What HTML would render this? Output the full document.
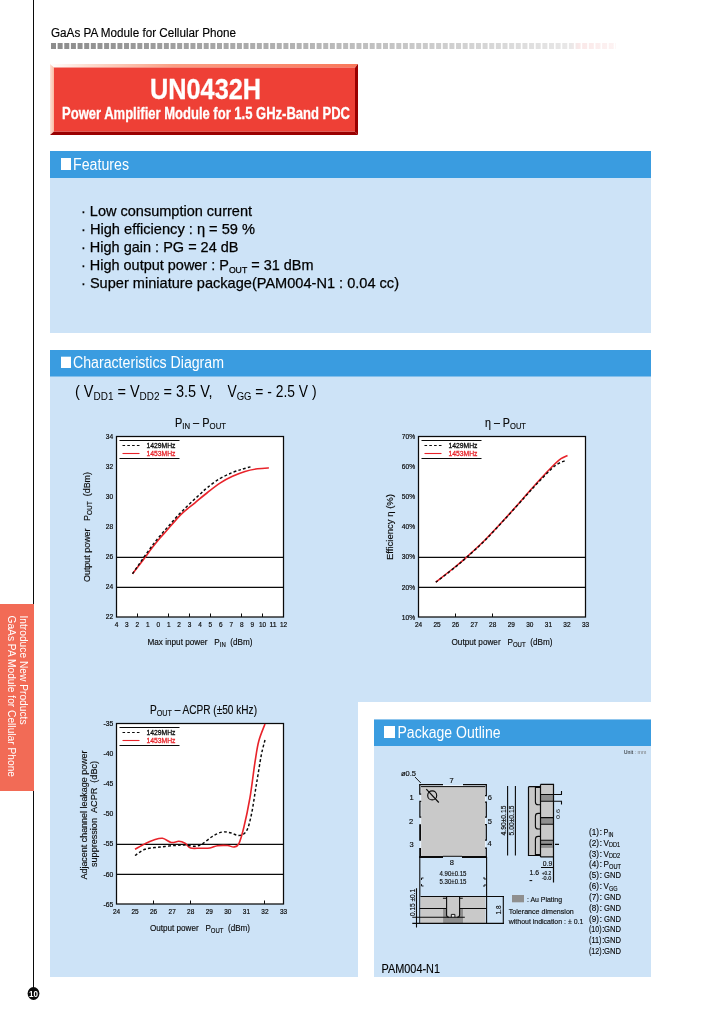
<!DOCTYPE html>
<html lang="en">
<head>
<meta charset="utf-8">
<title>UN0432H - Power Amplifier Module for 1.5 GHz-Band PDC</title>
<style>
html,body{margin:0;padding:0;background:#fff;}
body{width:720px;height:1012px;overflow:hidden;}
svg{display:block;font-family:"Liberation Sans", sans-serif;}
#pkg text,text.k{stroke:#0a0a0a;stroke-width:0.15px;}
</style>
</head>
<body>
<svg width="720" height="1012" viewBox="0 0 720 1012">
<defs>
<linearGradient id="dotg" gradientUnits="userSpaceOnUse" x1="51" y1="0" x2="616" y2="0">
<stop offset="0" stop-color="#8c8c8c"/><stop offset="0.45" stop-color="#b4b4b4"/><stop offset="0.8" stop-color="#d9d9d9"/><stop offset="0.92" stop-color="#e9e8e8"/><stop offset="0.935" stop-color="#fae8e8"/><stop offset="1" stop-color="#fdf3f3"/>
</linearGradient>
<linearGradient id="bevt" gradientUnits="userSpaceOnUse" x1="50" y1="0" x2="358" y2="0">
<stop offset="0" stop-color="#ffffff"/><stop offset="0.12" stop-color="#fdddd0"/><stop offset="0.4" stop-color="#fa9f84"/><stop offset="1" stop-color="#f9775a"/>
</linearGradient>
<linearGradient id="bevl" gradientUnits="userSpaceOnUse" x1="50" y1="0" x2="54" y2="0">
<stop offset="0" stop-color="#fde4da"/><stop offset="1" stop-color="#fbb9a2"/>
</linearGradient>
</defs>
<rect x="0" y="0" width="720" height="1012" fill="#ffffff"/>

<rect x="33" y="0" width="1" height="988" fill="#0a0a0a"/>
<rect x="0" y="604" width="34" height="187" fill="#f26b56"/>
<g fill="#ffffff" font-size="10">
<text transform="translate(19.5 615.5) rotate(90)" textLength="109" lengthAdjust="spacingAndGlyphs">Introduce New Products</text>
<text transform="translate(8.2 615.5) rotate(90)" textLength="161.5" lengthAdjust="spacingAndGlyphs">GaAs PA Module for Cellular Phone</text>
</g>
<ellipse cx="33.5" cy="993.5" rx="5.9" ry="6.4" fill="#0a0a0a"/>
<text x="33.5" y="997" font-size="9.5" font-weight="bold" fill="#ffffff" text-anchor="middle" textLength="9" lengthAdjust="spacingAndGlyphs">10</text>
<text x="51" y="37" font-size="12" fill="#000" textLength="185" lengthAdjust="spacingAndGlyphs" stroke="#000" stroke-width="0.15">GaAs PA Module for Cellular Phone</text>
<line x1="51" y1="45.9" x2="616" y2="45.9" stroke="url(#dotg)" stroke-width="6" stroke-dasharray="5 1.64"/>
<polygon points="50,64 358,64 355,67.5 54,67.5" fill="url(#bevt)"/>
<polygon points="50,64 54,67.5 54,131.5 50,135" fill="url(#bevl)"/>
<polygon points="50,135 54,131.5 355,131.5 358,135" fill="#990000"/>
<polygon points="358,64 358,135 355,131.5 355,67.5" fill="#990000"/>
<rect x="54" y="67.5" width="301" height="64" fill="#ee4036"/>
<text x="205.5" y="99.3" font-size="30" fill="#ffffff" text-anchor="middle" font-weight="bold" textLength="111" lengthAdjust="spacingAndGlyphs" stroke="#fff" stroke-width="0.3">UN0432H</text>
<text x="206" y="119" font-size="16" fill="#ffffff" text-anchor="middle" font-weight="bold" textLength="288" lengthAdjust="spacingAndGlyphs" stroke="#fff" stroke-width="0.3">Power Amplifier Module for 1.5 GHz-Band PDC</text>
<rect x="50" y="151" width="601" height="182" fill="#cde3f7"/>
<rect x="50" y="151" width="601" height="27" fill="#3a9ce0"/>
<rect x="61" y="158" width="10" height="12" fill="#ffffff"/>
<text x="73" y="170" font-size="16" fill="#ffffff" textLength="56" lengthAdjust="spacingAndGlyphs">Features</text>
<text x="81" y="216.4" font-size="15" fill="#000" textLength="171" lengthAdjust="spacingAndGlyphs" stroke="#000" stroke-width="0.25">· Low consumption current</text>
<text x="81" y="234.4" font-size="15" fill="#000" textLength="174" lengthAdjust="spacingAndGlyphs" stroke="#000" stroke-width="0.25">· High efficiency : η = 59 %</text>
<text x="81" y="252.4" font-size="15" fill="#000" textLength="157.5" lengthAdjust="spacingAndGlyphs" stroke="#000" stroke-width="0.25">· High gain : PG = 24 dB</text>
<text x="81" y="270.4" font-size="15" fill="#000" textLength="232.5" lengthAdjust="spacingAndGlyphs" stroke="#000" stroke-width="0.25">· High output power : P<tspan dy="2.5" font-size="9">OUT</tspan><tspan dy="-2.5"> = 31 dBm</tspan></text>
<text x="81" y="288.4" font-size="15" fill="#000" textLength="318" lengthAdjust="spacingAndGlyphs" stroke="#000" stroke-width="0.25">· Super miniature package(PAM004-N1 : 0.04 cc)</text>
<rect x="50" y="350" width="601" height="627" fill="#cde3f7"/>
<rect x="50" y="350" width="601" height="26.5" fill="#3a9ce0"/>
<rect x="61" y="356.7" width="10" height="11.3" fill="#ffffff"/>
<text x="73" y="368.3" font-size="16" fill="#ffffff" textLength="151" lengthAdjust="spacingAndGlyphs">Characteristics Diagram</text>
<text x="75" y="397" font-size="16" fill="#000" textLength="137.5" lengthAdjust="spacingAndGlyphs">( V<tspan dy="3" font-size="11">DD1</tspan><tspan dy="-3"> = V</tspan><tspan dy="3" font-size="11">DD2</tspan><tspan dy="-3"> = 3.5 V,</tspan></text>
<text x="227.5" y="397" font-size="16" fill="#000" textLength="89" lengthAdjust="spacingAndGlyphs">V<tspan dy="3" font-size="11">GG</tspan><tspan dy="-3"> = - 2.5 V )</tspan></text>
<rect x="116.5" y="436.5" width="167.0" height="180.5" fill="#ffffff" stroke="#0a0a0a" stroke-width="1.25"/>
<line x1="116.5" y1="557.3" x2="283.5" y2="557.3" stroke="#0a0a0a" stroke-width="1.2"/>
<line x1="116.5" y1="587.4" x2="283.5" y2="587.4" stroke="#0a0a0a" stroke-width="1.2"/>
<line x1="137.5" y1="617" x2="137.5" y2="613.5" stroke="#0a0a0a" stroke-width="1"/>
<line x1="168.5" y1="617" x2="168.5" y2="613.5" stroke="#0a0a0a" stroke-width="1"/>
<line x1="189.5" y1="617" x2="189.5" y2="613.5" stroke="#0a0a0a" stroke-width="1"/>
<line x1="210.5" y1="617" x2="210.5" y2="613.5" stroke="#0a0a0a" stroke-width="1"/>
<line x1="241.5" y1="617" x2="241.5" y2="613.5" stroke="#0a0a0a" stroke-width="1"/>
<line x1="262.5" y1="617" x2="262.5" y2="613.5" stroke="#0a0a0a" stroke-width="1"/>
<line x1="119.5" y1="440.5" x2="179.5" y2="440.5" stroke="#0a0a0a" stroke-width="1.1"/>
<line x1="119.5" y1="458.5" x2="179.5" y2="458.5" stroke="#0a0a0a" stroke-width="1.1"/>
<line x1="122.5" y1="445.5" x2="139.5" y2="445.5" stroke="#0a0a0a" stroke-width="1" stroke-dasharray="2.6 2.2"/>
<line x1="122.5" y1="453.5" x2="139.5" y2="453.5" stroke="#e8232a" stroke-width="1.1"/>
<text x="146.5" y="448.0" font-size="7.5" fill="#0a0a0a" textLength="29" lengthAdjust="spacingAndGlyphs" stroke="#0a0a0a" stroke-width="0.3">1429MHz</text>
<text x="146.5" y="456.0" font-size="7.5" fill="#e8232a" textLength="29" lengthAdjust="spacingAndGlyphs" stroke="#e8232a" stroke-width="0.3">1453MHz</text>
<path d="M132.5,573.8 C134.6,571.1 141.8,561.8 145.0,557.5 C148.2,553.2 149.4,551.3 151.9,548.1 C154.4,544.9 157.6,541.0 160.0,538.1 C162.4,535.2 163.4,534.3 166.3,531.0 C169.2,527.7 174.6,521.3 177.5,518.1 C180.4,514.9 180.9,514.4 183.8,511.9 C186.7,509.3 191.1,506.0 195.0,502.8 C198.9,499.6 203.3,495.8 207.5,492.5 C211.7,489.2 215.8,485.8 220.0,483.1 C224.2,480.4 228.3,478.2 232.5,476.3 C236.7,474.4 240.8,472.8 245.0,471.5 C249.2,470.2 253.5,469.4 257.5,468.8 C261.5,468.2 266.9,468.0 268.8,467.9" fill="none" stroke="#e8232a" stroke-width="1.6" stroke-linejoin="round"/>
<path d="M132.5,573.8 C133.6,572.3 136.3,568.2 138.8,564.6 C141.3,561.0 144.8,555.9 147.5,552.1 C150.2,548.3 152.5,545.2 155.0,542.0 C157.5,538.8 160.0,535.8 162.5,532.9 C165.0,530.0 167.5,527.3 170.0,524.5 C172.5,521.7 175.0,518.6 177.5,515.9 C180.0,513.2 182.5,510.8 185.0,508.3 C187.5,505.8 190.0,503.5 192.5,501.1 C195.0,498.8 197.5,496.5 200.0,494.2 C202.5,491.9 204.2,490.1 207.5,487.5 C210.8,484.9 215.8,481.0 220.0,478.5 C224.2,476.0 228.8,474.1 232.5,472.5 C236.2,470.9 239.5,470.1 242.5,469.1 C245.5,468.2 249.2,467.2 250.6,466.8" fill="none" stroke="#0a0a0a" stroke-width="1.45" stroke-dasharray="2.8 2.2"/>
<text x="116.5" y="626.8" font-size="7.8" fill="#0a0a0a" text-anchor="middle" textLength="3.6" lengthAdjust="spacingAndGlyphs" stroke="#0a0a0a" stroke-width="0.2">4</text>
<text x="126.9" y="626.8" font-size="7.8" fill="#0a0a0a" text-anchor="middle" textLength="3.6" lengthAdjust="spacingAndGlyphs" stroke="#0a0a0a" stroke-width="0.2">3</text>
<text x="137.4" y="626.8" font-size="7.8" fill="#0a0a0a" text-anchor="middle" textLength="3.6" lengthAdjust="spacingAndGlyphs" stroke="#0a0a0a" stroke-width="0.2">2</text>
<text x="147.8" y="626.8" font-size="7.8" fill="#0a0a0a" text-anchor="middle" textLength="3.6" lengthAdjust="spacingAndGlyphs" stroke="#0a0a0a" stroke-width="0.2">1</text>
<text x="158.2" y="626.8" font-size="7.8" fill="#0a0a0a" text-anchor="middle" textLength="3.6" lengthAdjust="spacingAndGlyphs" stroke="#0a0a0a" stroke-width="0.2">0</text>
<text x="168.7" y="626.8" font-size="7.8" fill="#0a0a0a" text-anchor="middle" textLength="3.6" lengthAdjust="spacingAndGlyphs" stroke="#0a0a0a" stroke-width="0.2">1</text>
<text x="179.1" y="626.8" font-size="7.8" fill="#0a0a0a" text-anchor="middle" textLength="3.6" lengthAdjust="spacingAndGlyphs" stroke="#0a0a0a" stroke-width="0.2">2</text>
<text x="189.6" y="626.8" font-size="7.8" fill="#0a0a0a" text-anchor="middle" textLength="3.6" lengthAdjust="spacingAndGlyphs" stroke="#0a0a0a" stroke-width="0.2">3</text>
<text x="200.0" y="626.8" font-size="7.8" fill="#0a0a0a" text-anchor="middle" textLength="3.6" lengthAdjust="spacingAndGlyphs" stroke="#0a0a0a" stroke-width="0.2">4</text>
<text x="210.4" y="626.8" font-size="7.8" fill="#0a0a0a" text-anchor="middle" textLength="3.6" lengthAdjust="spacingAndGlyphs" stroke="#0a0a0a" stroke-width="0.2">5</text>
<text x="220.9" y="626.8" font-size="7.8" fill="#0a0a0a" text-anchor="middle" textLength="3.6" lengthAdjust="spacingAndGlyphs" stroke="#0a0a0a" stroke-width="0.2">6</text>
<text x="231.3" y="626.8" font-size="7.8" fill="#0a0a0a" text-anchor="middle" textLength="3.6" lengthAdjust="spacingAndGlyphs" stroke="#0a0a0a" stroke-width="0.2">7</text>
<text x="241.8" y="626.8" font-size="7.8" fill="#0a0a0a" text-anchor="middle" textLength="3.6" lengthAdjust="spacingAndGlyphs" stroke="#0a0a0a" stroke-width="0.2">8</text>
<text x="252.2" y="626.8" font-size="7.8" fill="#0a0a0a" text-anchor="middle" textLength="3.6" lengthAdjust="spacingAndGlyphs" stroke="#0a0a0a" stroke-width="0.2">9</text>
<text x="262.6" y="626.8" font-size="7.8" fill="#0a0a0a" text-anchor="middle" textLength="7.2" lengthAdjust="spacingAndGlyphs" stroke="#0a0a0a" stroke-width="0.2">10</text>
<text x="273.1" y="626.8" font-size="7.8" fill="#0a0a0a" text-anchor="middle" textLength="7.2" lengthAdjust="spacingAndGlyphs" stroke="#0a0a0a" stroke-width="0.2">11</text>
<text x="283.5" y="626.8" font-size="7.8" fill="#0a0a0a" text-anchor="middle" textLength="7.2" lengthAdjust="spacingAndGlyphs" stroke="#0a0a0a" stroke-width="0.2">12</text>
<text x="113.2" y="438.5" font-size="7.8" fill="#0a0a0a" text-anchor="end" textLength="7.4" lengthAdjust="spacingAndGlyphs" stroke="#0a0a0a" stroke-width="0.2">34</text>
<text x="113.2" y="468.6" font-size="7.8" fill="#0a0a0a" text-anchor="end" textLength="7.4" lengthAdjust="spacingAndGlyphs" stroke="#0a0a0a" stroke-width="0.2">32</text>
<text x="113.2" y="498.7" font-size="7.8" fill="#0a0a0a" text-anchor="end" textLength="7.4" lengthAdjust="spacingAndGlyphs" stroke="#0a0a0a" stroke-width="0.2">30</text>
<text x="113.2" y="528.8" font-size="7.8" fill="#0a0a0a" text-anchor="end" textLength="7.4" lengthAdjust="spacingAndGlyphs" stroke="#0a0a0a" stroke-width="0.2">28</text>
<text x="113.2" y="558.8" font-size="7.8" fill="#0a0a0a" text-anchor="end" textLength="7.4" lengthAdjust="spacingAndGlyphs" stroke="#0a0a0a" stroke-width="0.2">26</text>
<text x="113.2" y="588.9" font-size="7.8" fill="#0a0a0a" text-anchor="end" textLength="7.4" lengthAdjust="spacingAndGlyphs" stroke="#0a0a0a" stroke-width="0.2">24</text>
<text x="113.2" y="619.0" font-size="7.8" fill="#0a0a0a" text-anchor="end" textLength="7.4" lengthAdjust="spacingAndGlyphs" stroke="#0a0a0a" stroke-width="0.2">22</text>
<text x="200.5" y="427" class="k" font-size="12" fill="#0a0a0a" text-anchor="middle" textLength="51" lengthAdjust="spacingAndGlyphs">P<tspan dy="2" font-size="8.5">IN</tspan><tspan dy="-2"> – P</tspan><tspan dy="2" font-size="8.5">OUT</tspan></text>
<text x="200" y="644.5" class="k" font-size="9.5" fill="#0a0a0a" text-anchor="middle" textLength="105" lengthAdjust="spacingAndGlyphs">Max input power&#160;&#160;&#160;P<tspan dy="2" font-size="7">IN</tspan><tspan dy="-2">&#160;&#160;(dBm)</tspan></text>
<text transform="translate(90 527) rotate(-90)" class="k" font-size="9.5" fill="#0a0a0a" text-anchor="middle" textLength="110" lengthAdjust="spacingAndGlyphs">Output power&#160;&#160;&#160;P<tspan dy="2" font-size="7">OUT</tspan><tspan dy="-2">&#160;&#160;(dBm)</tspan></text>
<rect x="418.5" y="436.5" width="167.0" height="180.5" fill="#ffffff" stroke="#0a0a0a" stroke-width="1.25"/>
<line x1="418.5" y1="557.3" x2="585.5" y2="557.3" stroke="#0a0a0a" stroke-width="1.2"/>
<line x1="418.5" y1="587.4" x2="585.5" y2="587.4" stroke="#0a0a0a" stroke-width="1.2"/>
<line x1="455.5" y1="617" x2="455.5" y2="613.5" stroke="#0a0a0a" stroke-width="1"/>
<line x1="492.5" y1="617" x2="492.5" y2="613.5" stroke="#0a0a0a" stroke-width="1"/>
<line x1="421.5" y1="440.5" x2="481.5" y2="440.5" stroke="#0a0a0a" stroke-width="1.1"/>
<line x1="421.5" y1="458.5" x2="481.5" y2="458.5" stroke="#0a0a0a" stroke-width="1.1"/>
<line x1="424.5" y1="445.5" x2="441.5" y2="445.5" stroke="#0a0a0a" stroke-width="1" stroke-dasharray="2.6 2.2"/>
<line x1="424.5" y1="453.5" x2="441.5" y2="453.5" stroke="#e8232a" stroke-width="1.1"/>
<text x="448.5" y="448.0" font-size="7.5" fill="#0a0a0a" textLength="29" lengthAdjust="spacingAndGlyphs" stroke="#0a0a0a" stroke-width="0.3">1429MHz</text>
<text x="448.5" y="456.0" font-size="7.5" fill="#e8232a" textLength="29" lengthAdjust="spacingAndGlyphs" stroke="#e8232a" stroke-width="0.3">1453MHz</text>
<path d="M435.8,582.0 C439.0,579.5 449.7,571.3 455.0,567.0 C460.3,562.7 462.5,560.8 467.5,556.3 C472.5,551.8 478.8,546.2 485.0,540.0 C491.2,533.8 498.3,526.1 505.0,518.8 C511.7,511.5 519.2,502.9 525.0,496.3 C530.8,489.8 535.0,484.9 540.0,479.5 C545.0,474.1 551.5,467.3 555.0,463.8 C558.5,460.3 558.9,460.0 561.0,458.6 C563.1,457.2 566.4,456.0 567.5,455.5" fill="none" stroke="#e8232a" stroke-width="1.6" stroke-linejoin="round"/>
<path d="M435.8,582.3 C439.0,579.8 449.7,571.6 455.0,567.3 C460.3,563.0 462.5,561.1 467.5,556.6 C472.5,552.1 478.8,546.6 485.0,540.3 C491.2,534.0 498.3,526.2 505.0,519.0 C511.7,511.8 519.2,503.2 525.0,496.8 C530.8,490.4 535.0,485.7 540.0,480.5 C545.0,475.3 550.8,469.1 555.0,465.8 C559.2,462.5 563.3,461.6 565.0,460.8" fill="none" stroke="#0a0a0a" stroke-width="1.45" stroke-dasharray="2.8 2.2"/>
<text x="418.5" y="626.8" font-size="7.8" fill="#0a0a0a" text-anchor="middle" textLength="7.2" lengthAdjust="spacingAndGlyphs" stroke="#0a0a0a" stroke-width="0.2">24</text>
<text x="437.1" y="626.8" font-size="7.8" fill="#0a0a0a" text-anchor="middle" textLength="7.2" lengthAdjust="spacingAndGlyphs" stroke="#0a0a0a" stroke-width="0.2">25</text>
<text x="455.6" y="626.8" font-size="7.8" fill="#0a0a0a" text-anchor="middle" textLength="7.2" lengthAdjust="spacingAndGlyphs" stroke="#0a0a0a" stroke-width="0.2">26</text>
<text x="474.2" y="626.8" font-size="7.8" fill="#0a0a0a" text-anchor="middle" textLength="7.2" lengthAdjust="spacingAndGlyphs" stroke="#0a0a0a" stroke-width="0.2">27</text>
<text x="492.7" y="626.8" font-size="7.8" fill="#0a0a0a" text-anchor="middle" textLength="7.2" lengthAdjust="spacingAndGlyphs" stroke="#0a0a0a" stroke-width="0.2">28</text>
<text x="511.3" y="626.8" font-size="7.8" fill="#0a0a0a" text-anchor="middle" textLength="7.2" lengthAdjust="spacingAndGlyphs" stroke="#0a0a0a" stroke-width="0.2">29</text>
<text x="529.8" y="626.8" font-size="7.8" fill="#0a0a0a" text-anchor="middle" textLength="7.2" lengthAdjust="spacingAndGlyphs" stroke="#0a0a0a" stroke-width="0.2">30</text>
<text x="548.4" y="626.8" font-size="7.8" fill="#0a0a0a" text-anchor="middle" textLength="7.2" lengthAdjust="spacingAndGlyphs" stroke="#0a0a0a" stroke-width="0.2">31</text>
<text x="566.9" y="626.8" font-size="7.8" fill="#0a0a0a" text-anchor="middle" textLength="7.2" lengthAdjust="spacingAndGlyphs" stroke="#0a0a0a" stroke-width="0.2">32</text>
<text x="585.5" y="626.8" font-size="7.8" fill="#0a0a0a" text-anchor="middle" textLength="7.2" lengthAdjust="spacingAndGlyphs" stroke="#0a0a0a" stroke-width="0.2">33</text>
<text x="415.2" y="439.1" font-size="7.8" fill="#0a0a0a" text-anchor="end" textLength="13.4" lengthAdjust="spacingAndGlyphs" stroke="#0a0a0a" stroke-width="0.2">70%</text>
<text x="415.2" y="469.2" font-size="7.8" fill="#0a0a0a" text-anchor="end" textLength="13.4" lengthAdjust="spacingAndGlyphs" stroke="#0a0a0a" stroke-width="0.2">60%</text>
<text x="415.2" y="499.3" font-size="7.8" fill="#0a0a0a" text-anchor="end" textLength="13.4" lengthAdjust="spacingAndGlyphs" stroke="#0a0a0a" stroke-width="0.2">50%</text>
<text x="415.2" y="529.4" font-size="7.8" fill="#0a0a0a" text-anchor="end" textLength="13.4" lengthAdjust="spacingAndGlyphs" stroke="#0a0a0a" stroke-width="0.2">40%</text>
<text x="415.2" y="559.4" font-size="7.8" fill="#0a0a0a" text-anchor="end" textLength="13.4" lengthAdjust="spacingAndGlyphs" stroke="#0a0a0a" stroke-width="0.2">30%</text>
<text x="415.2" y="589.5" font-size="7.8" fill="#0a0a0a" text-anchor="end" textLength="13.4" lengthAdjust="spacingAndGlyphs" stroke="#0a0a0a" stroke-width="0.2">20%</text>
<text x="415.2" y="619.6" font-size="7.8" fill="#0a0a0a" text-anchor="end" textLength="13.4" lengthAdjust="spacingAndGlyphs" stroke="#0a0a0a" stroke-width="0.2">10%</text>
<text x="505.5" y="427" class="k" font-size="12" fill="#0a0a0a" text-anchor="middle" textLength="41" lengthAdjust="spacingAndGlyphs">η – P<tspan dy="2" font-size="8.5">OUT</tspan></text>
<text x="502" y="644.5" class="k" font-size="9.5" fill="#0a0a0a" text-anchor="middle" textLength="101" lengthAdjust="spacingAndGlyphs">Output power&#160;&#160;&#160;P<tspan dy="2" font-size="7">OUT</tspan><tspan dy="-2">&#160;&#160;(dBm)</tspan></text>
<text transform="translate(392.5 527) rotate(-90)" class="k" font-size="9.5" fill="#0a0a0a" text-anchor="middle" textLength="66" lengthAdjust="spacingAndGlyphs">Efficiency η (%)</text>
<rect x="116.5" y="723.5" width="167.0" height="180.5" fill="#ffffff" stroke="#0a0a0a" stroke-width="1.25"/>
<line x1="116.5" y1="844.4" x2="283.5" y2="844.4" stroke="#0a0a0a" stroke-width="1.2"/>
<line x1="116.5" y1="874.4" x2="283.5" y2="874.4" stroke="#0a0a0a" stroke-width="1.2"/>
<line x1="153.5" y1="904" x2="153.5" y2="900.5" stroke="#0a0a0a" stroke-width="1"/>
<line x1="190.5" y1="904" x2="190.5" y2="900.5" stroke="#0a0a0a" stroke-width="1"/>
<line x1="264.5" y1="904" x2="264.5" y2="900.5" stroke="#0a0a0a" stroke-width="1"/>
<line x1="119.5" y1="727.5" x2="179.5" y2="727.5" stroke="#0a0a0a" stroke-width="1.1"/>
<line x1="119.5" y1="745.5" x2="179.5" y2="745.5" stroke="#0a0a0a" stroke-width="1.1"/>
<line x1="122.5" y1="732.5" x2="139.5" y2="732.5" stroke="#0a0a0a" stroke-width="1" stroke-dasharray="2.6 2.2"/>
<line x1="122.5" y1="740.5" x2="139.5" y2="740.5" stroke="#e8232a" stroke-width="1.1"/>
<text x="146.5" y="735.0" font-size="7.5" fill="#0a0a0a" textLength="29" lengthAdjust="spacingAndGlyphs" stroke="#0a0a0a" stroke-width="0.3">1429MHz</text>
<text x="146.5" y="743.0" font-size="7.5" fill="#e8232a" textLength="29" lengthAdjust="spacingAndGlyphs" stroke="#e8232a" stroke-width="0.3">1453MHz</text>
<path d="M135.0,849.3 C136.7,848.4 141.9,845.3 145.0,843.8 C148.1,842.2 150.9,840.9 153.8,840.0 C156.7,839.1 159.6,837.9 162.5,838.3 C165.4,838.7 168.6,842.0 171.3,842.5 C174.0,843.0 176.5,841.2 178.8,841.3 C181.1,841.4 183.1,842.2 185.0,843.3 C186.9,844.4 188.0,847.2 190.5,848.0 C193.0,848.8 196.8,848.2 200.0,848.2 C203.2,848.2 207.1,848.4 210.0,848.0 C212.9,847.6 214.6,846.1 217.5,845.7 C220.4,845.3 224.8,845.3 227.5,845.5 C230.2,845.7 231.9,847.3 233.8,847.0 C235.7,846.7 237.1,847.0 238.8,843.8 C240.5,840.5 241.9,835.2 243.8,827.5 C245.7,819.8 248.1,808.4 250.0,797.5 C251.9,786.6 253.5,771.4 255.0,762.0 C256.5,752.6 257.1,747.3 258.8,741.0 C260.5,734.7 264.0,726.8 265.0,724.0" fill="none" stroke="#e8232a" stroke-width="1.6" stroke-linejoin="round"/>
<path d="M135.0,855.5 C136.7,854.5 140.8,850.7 145.0,849.3 C149.2,847.9 155.0,847.6 160.0,847.0 C165.0,846.4 170.8,845.8 175.0,845.5 C179.2,845.2 181.7,844.9 185.0,845.0 C188.3,845.1 192.1,846.5 195.0,846.3 C197.9,846.1 199.6,845.5 202.5,843.8 C205.4,842.1 209.2,838.3 212.5,836.3 C215.8,834.3 219.4,832.5 222.5,832.0 C225.6,831.5 228.6,832.4 231.3,833.0 C234.0,833.6 236.3,835.8 238.8,835.5 C241.3,835.2 244.2,834.7 246.3,831.3 C248.4,827.9 249.6,822.7 251.3,815.0 C253.0,807.3 254.6,795.0 256.3,785.0 C258.0,775.0 259.9,762.5 261.3,755.0 C262.8,747.5 264.4,742.5 265.0,740.0" fill="none" stroke="#0a0a0a" stroke-width="1.45" stroke-dasharray="2.8 2.2"/>
<text x="116.5" y="913.8" font-size="7.8" fill="#0a0a0a" text-anchor="middle" textLength="7.2" lengthAdjust="spacingAndGlyphs" stroke="#0a0a0a" stroke-width="0.2">24</text>
<text x="135.1" y="913.8" font-size="7.8" fill="#0a0a0a" text-anchor="middle" textLength="7.2" lengthAdjust="spacingAndGlyphs" stroke="#0a0a0a" stroke-width="0.2">25</text>
<text x="153.6" y="913.8" font-size="7.8" fill="#0a0a0a" text-anchor="middle" textLength="7.2" lengthAdjust="spacingAndGlyphs" stroke="#0a0a0a" stroke-width="0.2">26</text>
<text x="172.2" y="913.8" font-size="7.8" fill="#0a0a0a" text-anchor="middle" textLength="7.2" lengthAdjust="spacingAndGlyphs" stroke="#0a0a0a" stroke-width="0.2">27</text>
<text x="190.7" y="913.8" font-size="7.8" fill="#0a0a0a" text-anchor="middle" textLength="7.2" lengthAdjust="spacingAndGlyphs" stroke="#0a0a0a" stroke-width="0.2">28</text>
<text x="209.3" y="913.8" font-size="7.8" fill="#0a0a0a" text-anchor="middle" textLength="7.2" lengthAdjust="spacingAndGlyphs" stroke="#0a0a0a" stroke-width="0.2">29</text>
<text x="227.8" y="913.8" font-size="7.8" fill="#0a0a0a" text-anchor="middle" textLength="7.2" lengthAdjust="spacingAndGlyphs" stroke="#0a0a0a" stroke-width="0.2">30</text>
<text x="246.4" y="913.8" font-size="7.8" fill="#0a0a0a" text-anchor="middle" textLength="7.2" lengthAdjust="spacingAndGlyphs" stroke="#0a0a0a" stroke-width="0.2">31</text>
<text x="264.9" y="913.8" font-size="7.8" fill="#0a0a0a" text-anchor="middle" textLength="7.2" lengthAdjust="spacingAndGlyphs" stroke="#0a0a0a" stroke-width="0.2">32</text>
<text x="283.5" y="913.8" font-size="7.8" fill="#0a0a0a" text-anchor="middle" textLength="7.2" lengthAdjust="spacingAndGlyphs" stroke="#0a0a0a" stroke-width="0.2">33</text>
<text x="113.2" y="726.1" font-size="7.8" fill="#0a0a0a" text-anchor="end" textLength="9.8" lengthAdjust="spacingAndGlyphs" stroke="#0a0a0a" stroke-width="0.2">-35</text>
<text x="113.2" y="756.2" font-size="7.8" fill="#0a0a0a" text-anchor="end" textLength="9.8" lengthAdjust="spacingAndGlyphs" stroke="#0a0a0a" stroke-width="0.2">-40</text>
<text x="113.2" y="786.3" font-size="7.8" fill="#0a0a0a" text-anchor="end" textLength="9.8" lengthAdjust="spacingAndGlyphs" stroke="#0a0a0a" stroke-width="0.2">-45</text>
<text x="113.2" y="816.4" font-size="7.8" fill="#0a0a0a" text-anchor="end" textLength="9.8" lengthAdjust="spacingAndGlyphs" stroke="#0a0a0a" stroke-width="0.2">-50</text>
<text x="113.2" y="846.4" font-size="7.8" fill="#0a0a0a" text-anchor="end" textLength="9.8" lengthAdjust="spacingAndGlyphs" stroke="#0a0a0a" stroke-width="0.2">-55</text>
<text x="113.2" y="876.5" font-size="7.8" fill="#0a0a0a" text-anchor="end" textLength="9.8" lengthAdjust="spacingAndGlyphs" stroke="#0a0a0a" stroke-width="0.2">-60</text>
<text x="113.2" y="906.6" font-size="7.8" fill="#0a0a0a" text-anchor="end" textLength="9.8" lengthAdjust="spacingAndGlyphs" stroke="#0a0a0a" stroke-width="0.2">-65</text>
<text x="203.5" y="713.8" class="k" font-size="12" fill="#0a0a0a" text-anchor="middle" textLength="107" lengthAdjust="spacingAndGlyphs">P<tspan dy="2" font-size="8.5">OUT</tspan><tspan dy="-2"> – ACPR (±50 kHz)</tspan></text>
<text x="200" y="931.3" class="k" font-size="9.5" fill="#0a0a0a" text-anchor="middle" textLength="100" lengthAdjust="spacingAndGlyphs">Output power&#160;&#160;&#160;P<tspan dy="2" font-size="7">OUT</tspan><tspan dy="-2">&#160;&#160;(dBm)</tspan></text>
<text transform="translate(87 815) rotate(-90)" class="k" font-size="9.5" fill="#0a0a0a" text-anchor="middle" textLength="129" lengthAdjust="spacingAndGlyphs">Adjacent channel leakage power</text>
<text transform="translate(97 814) rotate(-90)" class="k" font-size="9.5" fill="#0a0a0a" text-anchor="middle" textLength="106" lengthAdjust="spacingAndGlyphs">suppression&#160;&#160;ACPR&#160;&#160;(dBc)</text>
<rect x="358" y="702" width="293" height="310" fill="#ffffff"/>
<rect x="374" y="719.5" width="277" height="257.5" fill="#cde3f7"/>
<rect x="374" y="719.5" width="277" height="26.5" fill="#3a9ce0"/>
<rect x="384" y="726" width="11" height="12" fill="#ffffff"/>
<text x="397.5" y="738" font-size="16" fill="#ffffff" textLength="103" lengthAdjust="spacingAndGlyphs">Package Outline</text>
<text x="646.3" y="754" font-size="6" fill="#111" text-anchor="end" textLength="22.5" lengthAdjust="spacingAndGlyphs">Unit<tspan fill="#777"> : mm</tspan></text>
<text x="381.5" y="972.5" font-size="12" fill="#000" textLength="58.5" lengthAdjust="spacingAndGlyphs" stroke="#000" stroke-width="0.12">PAM004-N1</text>
<g id="pkg" font-size="7.5" fill="#0a0a0a">
<rect x="420" y="785" width="66" height="72" fill="#e9f2fb"/>
<rect x="421.2" y="787" width="63.8" height="69" fill="#c9c9c9"/>
<g stroke="#0a0a0a" stroke-width="1.25" fill="none">
<path d="M421,786.6 H485.3" stroke-width="1"/>
<path d="M419.3,784.6 H443 M463,784.6 H486.8"/>
<path d="M419.8,784.2 V794.2 h1.4 M421.2,801.4 h-1.3 V817 h1.3"/>
<path d="M420.1,824.2 V840.8 M420.1,847.9 V857.5" stroke-width="1.8"/>
<path d="M486.3,784.2 V795.5 h-1.3 M485,802 h1.3 V817 h-1.3 M485,824.6 h1.3 V840 h-1.3 M485,848 h1.3 V857"/>
<path d="M419.2,856.9 H443 M462,856.9 H486.8" stroke-width="2"/>
<path d="M443,856.3 H462" stroke-width="1"/>
<path d="M419.8,857 V923 M486.6,857 V923" stroke-width="1.1"/>
<circle cx="432.2" cy="795.4" r="4.5" stroke-width="1.15"/>
<path d="M426.3,789.2 L438.8,802.5" stroke-width="1.15"/>
<path d="M415,777 L420.8,783" stroke-width="0.9"/>
<path d="M507.6,786 V855.5 M515.4,786 V855.5" stroke-width="1.1"/>
<path d="M421.5,878 h2 M421.5,878 v2 M421.5,886 h2 M421.5,886 v-2 M485,878 h-2 M485,878 v2 M485,886 h-2 M485,886 v-2" stroke-width="0.9"/>
</g>
<text x="408.5" y="775.8" text-anchor="middle" textLength="15" lengthAdjust="spacingAndGlyphs">ø0.5</text>
<text x="411.7" y="800.2" text-anchor="middle">1</text>
<text x="411.2" y="823.8" text-anchor="middle">2</text>
<text x="411.5" y="846.7" text-anchor="middle">3</text>
<text x="489.8" y="800.3" text-anchor="middle">6</text>
<text x="489.8" y="823.8" text-anchor="middle">5</text>
<text x="489.6" y="845.8" text-anchor="middle">4</text>
<text x="451.6" y="783" text-anchor="middle">7</text>
<text x="451.8" y="864.6" text-anchor="middle">8</text>
<text x="453" y="875.8" text-anchor="middle" textLength="27" lengthAdjust="spacingAndGlyphs">4.90±0.15</text>
<text x="453" y="884.2" text-anchor="middle" textLength="27" lengthAdjust="spacingAndGlyphs">5.30±0.15</text>
<text transform="translate(505.5 820.5) rotate(-90)" text-anchor="middle" textLength="30" lengthAdjust="spacingAndGlyphs">4.90±0.15</text>
<text transform="translate(513.8 820.5) rotate(-90)" text-anchor="middle" textLength="30" lengthAdjust="spacingAndGlyphs">5.00±0.15</text>
<rect x="420.5" y="896.5" width="65" height="26.5" fill="#c9c9c9"/>
<rect x="443.1" y="908.5" width="19.9" height="14.5" fill="#8f8f8f"/>
<rect x="446.6" y="897" width="13" height="20.2" fill="#c9c9c9"/>
<rect x="451.7" y="914.6" width="2.8" height="2.4" fill="#eeeeee"/>
<g stroke="#0a0a0a" stroke-width="1.1" fill="none">
<path d="M420.5,896.5 H504 M412.3,923.4 H504 M419.6,908.5 H446.4 M460,908.5 H486.5 M412.3,917.2 H464.8"/>
<path d="M446.6,897 V915 Q446.6,917.2 449,917.2 M459.6,897 V915 Q459.6,917.2 457.2,917.2 M442.9,898.3 H446.6 M459.6,898.3 H462.8"/>
<path d="M451.3,917.2 V914.4 H454.9 V917.2" stroke-width="0.9"/>
<path d="M503.3,896.5 V923.4 M416.5,888.3 V927.6"/>
</g>
<text transform="translate(500.5 910) rotate(-90)" text-anchor="middle" textLength="9" lengthAdjust="spacingAndGlyphs">1.8</text>
<text transform="translate(414.6 902.5) rotate(-90)" text-anchor="middle" textLength="27" lengthAdjust="spacingAndGlyphs">0.15 ±0.1</text>
<rect x="528.5" y="786.7" width="12" height="68.8" fill="#c9c9c9"/>
<rect x="540.5" y="784.4" width="13" height="72.5" fill="#c9c9c9"/>
<rect x="540.5" y="794.5" width="13" height="6.8" fill="#8f8f8f"/>
<rect x="540.5" y="817.6" width="13" height="6.6" fill="#8f8f8f"/>
<rect x="540.5" y="840.4" width="13" height="7.5" fill="#8f8f8f"/>
<g stroke="#0a0a0a" stroke-width="1.1" fill="none">
<path d="M528.5,786.7 V855.5 H540.5 M528.5,786.7 H540.5 M540.5,784.4 V856.9 M540.5,784.4 H553.5 V882.6" stroke-width="1.2"/>
<path d="M535.4,787.3 H540.5 M535.4,854.8 H540.5" stroke-width="1.6"/>
<path d="M535.4,787 V802 Q535.4,804.8 538.2,804.8 H540.5"/>
<path d="M540.5,813.4 H538.2 Q535.4,813.4 535.4,816.2 V826.2 Q535.4,829 538.2,829 H540.5"/>
<path d="M540.5,836.4 H538.2 Q535.4,836.4 535.4,839.2 V855"/>
<path d="M540.5,794.5 H562 M540.5,801.3 H562 M540.5,817.6 H553.5 M540.5,824.2 H553.5 M540.5,840.3 H553.5 M540.5,844.4 H552 M555,844.4 H559"/>
<path d="M561.5,791 V794.5 M561.5,801.3 V804.5"/>
<path d="M540.5,856.9 H553.5" stroke-width="1.2"/>
<path d="M541,867.5 H553.5" stroke-width="1"/>
<path d="M529.5,880.6 H532.2" stroke-width="1"/>
</g>
<text transform="translate(560.3 814) rotate(-90)" text-anchor="middle" font-size="6" style="stroke:none" textLength="10" lengthAdjust="spacingAndGlyphs">0.6</text>
<text x="547.6" y="866" text-anchor="middle" textLength="9.5" lengthAdjust="spacingAndGlyphs">0.9</text>
<text x="534.2" y="874.6" text-anchor="middle" textLength="9.5" lengthAdjust="spacingAndGlyphs">1.6</text>
<text x="546.5" y="875.3" text-anchor="middle" font-size="5" textLength="9.5" lengthAdjust="spacingAndGlyphs">+0.2</text>
<text x="546.5" y="880.3" text-anchor="middle" font-size="5" textLength="9.5" lengthAdjust="spacingAndGlyphs">-0.0</text>
<rect x="512" y="895" width="12" height="7.3" fill="#8f8f8f"/>
<text x="527" y="901.5" text-anchor="start" font-size="8" textLength="35" lengthAdjust="spacingAndGlyphs">: Au Plating</text>
<text x="508.8" y="914.3" text-anchor="start" font-size="8" textLength="65" lengthAdjust="spacingAndGlyphs">Tolerance dimension</text>
<text x="508.8" y="924.2" text-anchor="start" font-size="8" textLength="74.5" lengthAdjust="spacingAndGlyphs">without indication : ± 0.1</text>
<text x="589" y="834.8" font-size="9.5" textLength="10" lengthAdjust="spacingAndGlyphs">(1)</text>
<text x="599.5" y="834.8" font-size="9.5">:</text>
<text x="603.5" y="834.8" font-size="9.5" textLength="10" lengthAdjust="spacingAndGlyphs">P<tspan dy="1.8" font-size="6.5">IN</tspan></text>
<text x="589" y="845.6" font-size="9.5" textLength="10" lengthAdjust="spacingAndGlyphs">(2)</text>
<text x="599.5" y="845.6" font-size="9.5">:</text>
<text x="603.5" y="845.6" font-size="9.5" textLength="16.5" lengthAdjust="spacingAndGlyphs">V<tspan dy="1.8" font-size="6.5">DD1</tspan></text>
<text x="589" y="856.5" font-size="9.5" textLength="10" lengthAdjust="spacingAndGlyphs">(3)</text>
<text x="599.5" y="856.5" font-size="9.5">:</text>
<text x="603.5" y="856.5" font-size="9.5" textLength="16.5" lengthAdjust="spacingAndGlyphs">V<tspan dy="1.8" font-size="6.5">DD2</tspan></text>
<text x="589" y="867.3" font-size="9.5" textLength="10" lengthAdjust="spacingAndGlyphs">(4)</text>
<text x="599.5" y="867.3" font-size="9.5">:</text>
<text x="603.5" y="867.3" font-size="9.5" textLength="17.5" lengthAdjust="spacingAndGlyphs">P<tspan dy="1.8" font-size="6.5">OUT</tspan></text>
<text x="589" y="878.2" font-size="9.5" textLength="10" lengthAdjust="spacingAndGlyphs">(5)</text>
<text x="599.5" y="878.2" font-size="9.5">:</text>
<text x="604" y="878.2" font-size="9.5" textLength="17" lengthAdjust="spacingAndGlyphs">GND</text>
<text x="589" y="889.0" font-size="9.5" textLength="10" lengthAdjust="spacingAndGlyphs">(6)</text>
<text x="599.5" y="889.0" font-size="9.5">:</text>
<text x="603.5" y="889.0" font-size="9.5" textLength="14" lengthAdjust="spacingAndGlyphs">V<tspan dy="1.8" font-size="6.5">GG</tspan></text>
<text x="589" y="899.9" font-size="9.5" textLength="10" lengthAdjust="spacingAndGlyphs">(7)</text>
<text x="599.5" y="899.9" font-size="9.5">:</text>
<text x="604" y="899.9" font-size="9.5" textLength="17" lengthAdjust="spacingAndGlyphs">GND</text>
<text x="589" y="910.8" font-size="9.5" textLength="10" lengthAdjust="spacingAndGlyphs">(8)</text>
<text x="599.5" y="910.8" font-size="9.5">:</text>
<text x="604" y="910.8" font-size="9.5" textLength="17" lengthAdjust="spacingAndGlyphs">GND</text>
<text x="589" y="921.6" font-size="9.5" textLength="10" lengthAdjust="spacingAndGlyphs">(9)</text>
<text x="599.5" y="921.6" font-size="9.5">:</text>
<text x="604" y="921.6" font-size="9.5" textLength="17" lengthAdjust="spacingAndGlyphs">GND</text>
<text x="589" y="932.4" font-size="9.5" textLength="12.5" lengthAdjust="spacingAndGlyphs">(10)</text>
<text x="602" y="932.4" font-size="9.5">:</text>
<text x="604" y="932.4" font-size="9.5" textLength="17" lengthAdjust="spacingAndGlyphs">GND</text>
<text x="589" y="943.3" font-size="9.5" textLength="12.5" lengthAdjust="spacingAndGlyphs">(11)</text>
<text x="602" y="943.3" font-size="9.5">:</text>
<text x="604" y="943.3" font-size="9.5" textLength="17" lengthAdjust="spacingAndGlyphs">GND</text>
<text x="589" y="954.1" font-size="9.5" textLength="12.5" lengthAdjust="spacingAndGlyphs">(12)</text>
<text x="602" y="954.1" font-size="9.5">:</text>
<text x="604" y="954.1" font-size="9.5" textLength="17" lengthAdjust="spacingAndGlyphs">GND</text>
</g>
</svg>
</body>
</html>
